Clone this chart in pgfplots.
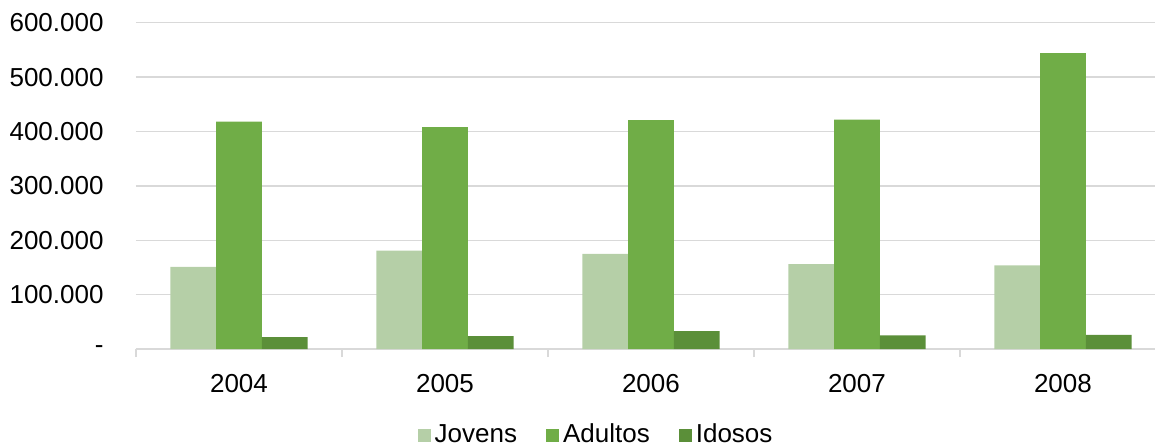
\documentclass[border=0pt]{standalone}
\usepackage{pgfplots}
\pgfplotsset{compat=1.18}
\usepackage{fontspec}
\setmainfont{Liberation Sans}
\definecolor{cJ}{HTML}{B5CFA7}
\definecolor{cA}{HTML}{70AD47}
\definecolor{cI}{HTML}{5B8F39}
\definecolor{gridc}{HTML}{D9D9D9}
\begin{document}
\fontsize{13pt}{15pt}\selectfont
\begin{tikzpicture}
\begin{axis}[
  name=ax,
  scale only axis, width=509.5pt, height=163.2pt,
  xmin=-0.5, xmax=4.447, ymin=0, ymax=600000,
  scaled y ticks=false,
  ybar=0pt, bar width=0.222,
  ytick={0,100000,200000,300000,400000,500000,600000},
  yticklabels={-\hspace{6pt},100.000,200.000,300.000,400.000,500.000,600.000},
  ymajorgrids, grid style={gridc, line width=0.75pt},
  xtick={0,1,2,3,4}, xticklabels={2004,2005,2006,2007,2008},
  minor xtick={-0.5,0.5,1.5,2.5,3.5},
  tick align=outside,
  major tick length=0pt, minor tick length=4pt,
  minor x tick style={draw=gridc, line width=0.75pt},
  ytick style={draw=none},
  axis x line*=bottom,
  x axis line style={-, draw=gridc, line width=0.75pt},
  y axis line style={draw=none},
  tick label style={font=\fontsize{13pt}{15pt}\selectfont},
  yticklabel style={xshift=-11.7pt},
  xticklabel style={yshift=-8.2pt},
  legend columns=3,
  legend style={at={(0.4525,0)}, anchor=center, yshift=-43pt, draw=none, fill=none,
    font=\fontsize{13pt}{15pt}\selectfont,
    /tikz/every odd column/.append style={column sep=0pt},
    /tikz/every even column/.append style={column sep=12.5pt}},
  legend image code/.code={\fill[#1] (-2pt,-3.25pt) rectangle (4.5pt,3.25pt);},
]
\addplot[fill=cJ, draw=none] coordinates {(0,151000) (1,181000) (2,175000) (3,156000) (4,154000)};
\addplot[fill=cA, draw=none] coordinates {(0,418000) (1,408000) (2,421000) (3,422000) (4,544000)};
\addplot[fill=cI, draw=none] coordinates {(0,22000) (1,24000) (2,33000) (3,25000) (4,26000)};
\legend{Jovens,Adultos,Idosos}
\end{axis}
\pgfresetboundingbox
\path[use as bounding box] ([xshift=-68pt,yshift=11.35pt]ax.north west) rectangle ([yshift=-48pt]ax.south east);
\end{tikzpicture}
\end{document}
